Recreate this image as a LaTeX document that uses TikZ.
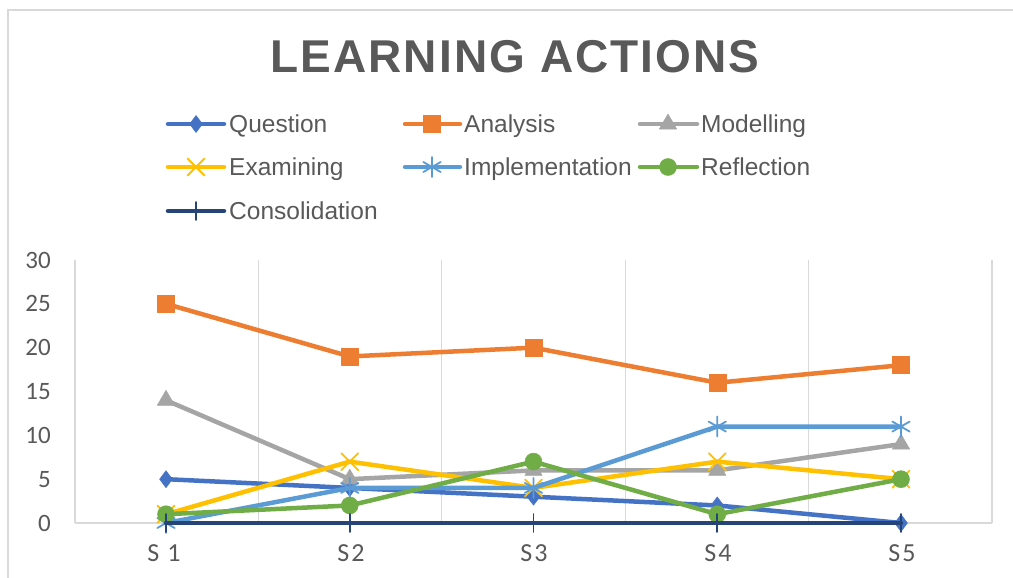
\documentclass[tikz,border=0pt]{standalone}
\usepackage{fontspec}
\setmainfont{Liberation Sans}
\newfontfamily\axfont{Carlito}
\usetikzlibrary{plotmarks}
\definecolor{colQ}{HTML}{4472C4}
\definecolor{colA}{HTML}{ED7D31}
\definecolor{colM}{HTML}{A5A5A5}
\definecolor{colE}{HTML}{FFC000}
\definecolor{colI}{HTML}{5B9BD5}
\definecolor{colR}{HTML}{70AD47}
\definecolor{colC}{HTML}{264478}
\definecolor{txtgrey}{HTML}{595959}
\definecolor{gridc}{HTML}{D9D9D9}
\tikzset{
  ser/.style={line width=4.5pt, line join=round, line cap=round},
  qser/.style={ser, colQ, mark=diamond*, mark size=8.5pt, mark options={solid, fill=colQ, line width=0.5pt}},
  aser/.style={ser, colA, mark=square*, mark size=8.5pt, mark options={solid, fill=colA, line width=0.5pt}},
  mser/.style={ser, colM, mark=triangle*, mark size=10pt, mark options={solid, fill=colM, line width=0.5pt}},
  eser/.style={ser, colE, mark=x, mark size=12pt, mark options={solid, line width=1.8pt}},
  iser/.style={ser, colI, mark=asterisk, mark size=10pt, mark options={solid, line width=1.8pt}},
  rser/.style={ser, colR, mark=*, mark size=8.5pt, mark options={solid, fill=colR, line width=0.5pt}},
  cser/.style={ser, colC, mark=|, mark size=9pt, mark options={solid, line width=1.8pt}},
  legtext/.style={anchor=base west, text=txtgrey, font=\fontsize{24.5}{28}\selectfont, inner sep=0pt},
  ylab/.style={anchor=east, text=txtgrey, font=\axfont\fontsize{25}{27}\selectfont, inner sep=0pt},
  xlab/.style={anchor=center, text=txtgrey, font=\axfont\fontsize{26}{28}\selectfont\addfontfeature{LetterSpace=8}, inner sep=0pt},
  gridline/.style={gridc, line width=1.2pt}
}
\begin{document}
\begin{tikzpicture}[x=1pt,y=-1pt]
\useasboundingbox (0,0) rectangle (1013,578);
\fill[white] (0,0) rectangle (1013,578);
% outer chart border
\draw[gridc, line width=1.5pt] (8,578) -- (8,10) -- (1013,10);
% title
\node[anchor=base, text=txtgrey, inner sep=0pt] (title) at (515,73)
  {\fontsize{46}{46}\selectfont\bfseries\addfontfeature{LetterSpace=4.5}LEARNING ACTIONS};
% legend
\draw[qser] (168,124) -- (224,124);
\draw[qser, only marks] plot coordinates {(196,124)};
\node[legtext] (lq) at (229,132) {Question};
\draw[aser] (405,124) -- (460,124);
\draw[aser, only marks] plot coordinates {(432,124)};
\node[legtext] (la) at (464,132) {Analysis};
\draw[mser] (640,124) -- (697,124);
\draw[mser, only marks] plot coordinates {(668,124)};
\node[legtext] (lm) at (701,132) {Modelling};
\draw[eser] (168,167) -- (224,167);
\draw[eser, only marks] plot coordinates {(196,167)};
\node[legtext] (le) at (229,175) {Examining};
\draw[iser] (405,167) -- (460,167);
\draw[iser, only marks] plot coordinates {(432,167)};
\node[legtext] (li) at (464,175) {Implementation};
\draw[rser] (640,167) -- (697,167);
\draw[rser, only marks] plot coordinates {(668,167)};
\node[legtext] (lr) at (701,175) {Reflection};
\draw[cser] (168,211) -- (224,211);
\draw[cser, only marks] plot coordinates {(196,211)};
\node[legtext] (lc) at (229,219) {Consolidation};
% plot frame: vertical gridlines and category axis
\foreach \gx in {75,258.4,441.8,625.2,808.6,992} {
  \draw[gridline] (\gx,260) -- (\gx,523);
}
\draw[gridline] (75,523) -- (992,523);
% y labels
\foreach \v in {0,5,...,30} {
  \node[ylab] (y\v) at (51,{523-\v*8.7667}) {\v};
}
% x labels
\node[xlab] (s1) at (164,553) {S\ 1};
\node[xlab] (s2) at (351,553) {S2};
\node[xlab] (s3) at (534,553) {S3};
\node[xlab] (s4) at (718,553) {S4};
\node[xlab] (s5) at (902,553) {S5};
% data series
\begin{scope}[shift={(166,523)}, x=183.75pt, y=8.7667pt]
\draw[qser] plot coordinates {(0,5) (1,4) (2,3) (3,2) (4,0)};
\draw[aser] plot coordinates {(0,25) (1,19) (2,20) (3,16) (4,18)};
\draw[mser] plot coordinates {(0,14) (1,5) (2,6) (3,6) (4,9)};
\draw[eser] plot coordinates {(0,1) (1,7) (2,4) (3,7) (4,5)};
\draw[iser] plot coordinates {(0,0) (1,4) (2,4) (3,11) (4,11)};
\draw[rser] plot coordinates {(0,1) (1,2) (2,7) (3,1) (4,5)};
\draw[cser] plot coordinates {(0,0) (1,0) (2,0) (3,0) (4,0)};
\end{scope}
\end{tikzpicture}
\end{document}
